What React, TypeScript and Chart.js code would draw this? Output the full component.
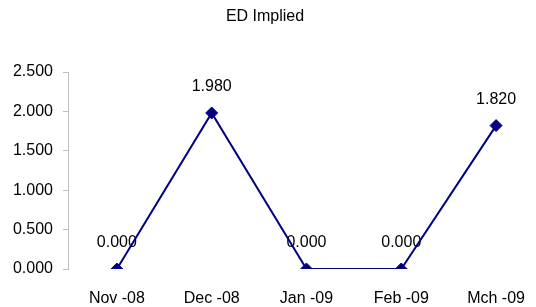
import React, { useEffect, useRef } from "react";
import { Chart, registerables } from "chart.js";

Chart.register(...registerables);

const categories = ["Nov -08", "Dec -08", "Jan -09", "Feb -09", "Mch -09"];
const values = [0.0, 1.98, 0.0, 0.0, 1.82];
const yTicks = [0, 0.5, 1, 1.5, 2, 2.5];
const titleText = "ED Implied";

const FONT = "'Liberation Sans', Arial, Helvetica, sans-serif";
const FS = 16;

const labelPlugin = {
  id: "pointLabels",
  beforeDatasetsDraw(chart: any) {
    const ctx = chart.ctx;
    const meta = chart.getDatasetMeta(0);
    ctx.save();
    ctx.font = `${FS}px ${FONT}`;
    ctx.fillStyle = "#000000";
    ctx.textAlign = "center";
    ctx.textBaseline = "middle";
    meta.data.forEach((pt: any, i: number) => {
      ctx.fillText(values[i].toFixed(3), pt.x, pt.y - 26);
    });
    ctx.restore();
  },
};

export default function App() {
  const ref = useRef<HTMLCanvasElement | null>(null);

  useEffect(() => {
    if (!ref.current) return;
    const chart = new Chart(ref.current, {
      type: "line",
      data: {
        datasets: [
          {
            data: values.map((v, i) => ({ x: i, y: v })),
            borderColor: "#000080",
            backgroundColor: "#000080",
            borderWidth: 2,
            pointStyle: "rectRot",
            pointRadius: 6,
            pointBackgroundColor: "#000080",
            pointBorderColor: "#000080",
            pointBorderWidth: 1,
            tension: 0,
            fill: false,
          },
        ],
      },
      options: {
        animation: false,
        responsive: false,
        devicePixelRatio: 1,
        layout: { padding: { left: 0, right: 6, top: 0, bottom: 0 } },
        plugins: {
          legend: { display: false },
          tooltip: { enabled: false },
          title: {
            display: true,
            text: titleText,
            color: "#000000",
            font: { family: FONT, size: FS, weight: "normal" },
            padding: { top: 7.4, bottom: 45.4 },
          },
        },
        scales: {
          x: {
            type: "linear",
            min: -49 / 95,
            max: (530 - 117) / 95,
            afterBuildTicks: (s: any) => {
              s.ticks = categories.map((_, i) => ({ value: i }));
            },
            afterFit: (s: any) => {
              s.height = 38;
              s.paddingLeft = 0;
              s.paddingRight = 0;
            },
            ticks: {
              color: "#000000",
              font: { family: FONT, size: FS },
              padding: 20,
              maxRotation: 0,
              autoSkip: false,
              callback: (v: any) => categories[v] ?? "",
            },
            grid: { display: false, drawTicks: false },
            border: { display: false },
          },
          y: {
            type: "linear",
            min: 0,
            max: 2.5,
            afterFit: (s: any) => {
              s.width = 68;
            },
            afterBuildTicks: (s: any) => {
              s.ticks = yTicks.map((v) => ({ value: v }));
            },
            ticks: {
              color: "#000000",
              font: { family: FONT, size: FS },
              padding: 10,
              callback: (v: any) => Number(v).toFixed(3),
            },
            grid: {
              drawOnChartArea: false,
              drawTicks: true,
              tickLength: 5,
              color: "#bfbfbf",
            },
            border: { display: true, color: "#bfbfbf", width: 1 },
          },
        },
      },
      plugins: [labelPlugin],
    });
    return () => chart.destroy();
  }, []);

  return (
    <div
      style={{
        position: "fixed",
        left: 0,
        top: 0,
        width: 536,
        height: 307,
        background: "#ffffff",
      }}
    >
      <canvas ref={ref} width={536} height={307} style={{ display: "block" }} />
    </div>
  );
}
